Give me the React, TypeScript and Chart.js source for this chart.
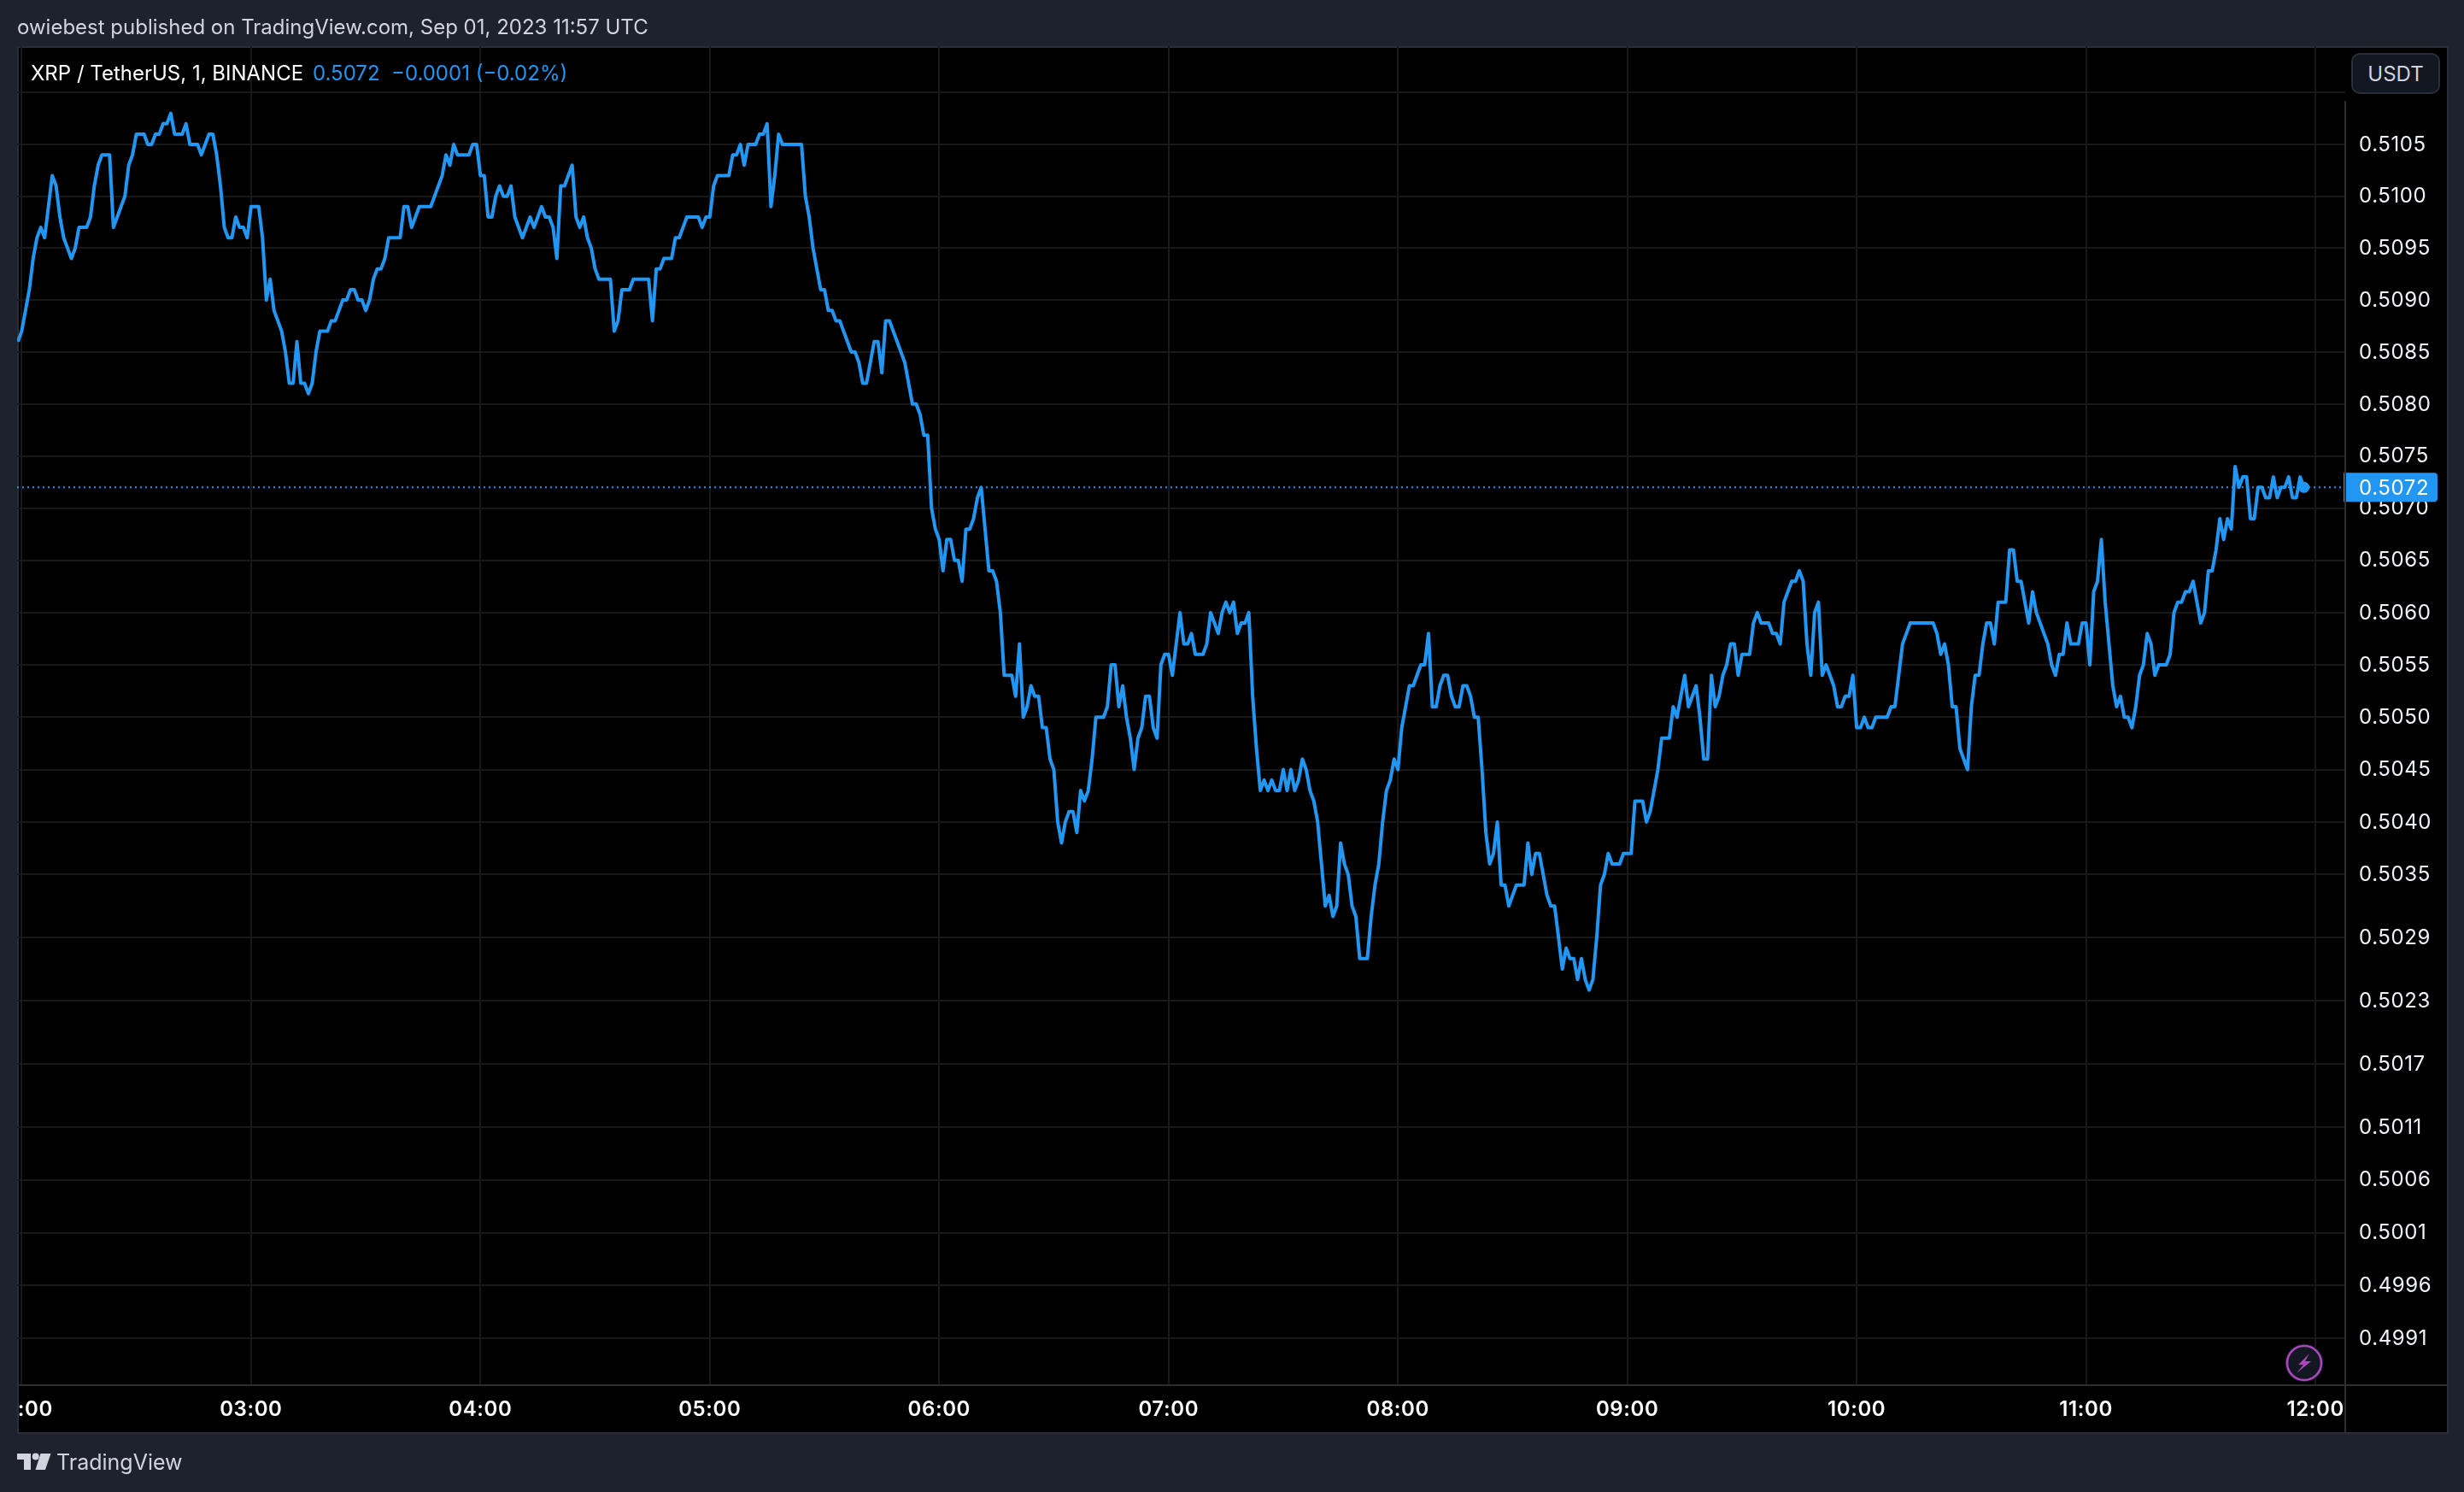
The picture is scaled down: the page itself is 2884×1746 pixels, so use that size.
import React, { useEffect, useRef } from "react";
import { Chart, registerables } from "chart.js";

Chart.register(...registerables);

// One-minute closes, first value at minute 119 of the day (01:59 UTC)
const firstMinute = 119;
const closes0200 = [
  0.5086, 0.5087, 0.5089, 0.5091, 0.5094, 0.5096, 0.5097, 0.5096, 0.5099, 0.5102, 0.5101,
  0.5098, 0.5096, 0.5095, 0.5094, 0.5095, 0.5097, 0.5097, 0.5097, 0.5098, 0.5101,
  0.5103, 0.5104, 0.5104, 0.5104, 0.5097, 0.5098, 0.5099, 0.51, 0.5103, 0.5104,
  0.5106, 0.5106, 0.5106, 0.5105, 0.5105, 0.5106, 0.5106, 0.5107, 0.5107, 0.5108,
  0.5106, 0.5106, 0.5106, 0.5107, 0.5105, 0.5105, 0.5105, 0.5104, 0.5105, 0.5106,
  0.5106, 0.5104, 0.5101, 0.5097, 0.5096, 0.5096, 0.5098, 0.5097, 0.5097, 0.5096,
];
const closes0300 = [
  0.5099, 0.5099, 0.5099, 0.5096, 0.509, 0.5092, 0.5089, 0.5088, 0.5087, 0.5085,
  0.5082, 0.5082, 0.5086, 0.5082, 0.5082, 0.5081, 0.5082, 0.5085, 0.5087, 0.5087,
  0.5087, 0.5088, 0.5088, 0.5089, 0.509, 0.509, 0.5091, 0.5091, 0.509, 0.509,
  0.5089, 0.509, 0.5092, 0.5093, 0.5093, 0.5094, 0.5096, 0.5096, 0.5096, 0.5096,
  0.5099, 0.5099, 0.5097, 0.5098, 0.5099, 0.5099, 0.5099, 0.5099, 0.51, 0.5101,
  0.5102, 0.5104, 0.5103, 0.5105, 0.5104, 0.5104, 0.5104, 0.5104, 0.5105, 0.5105,
];
const closes0400 = [
  0.5102, 0.5102, 0.5098, 0.5098, 0.51, 0.5101, 0.51, 0.51, 0.5101, 0.5098,
  0.5097, 0.5096, 0.5097, 0.5098, 0.5097, 0.5098, 0.5099, 0.5098, 0.5098, 0.5097,
  0.5094, 0.5101, 0.5101, 0.5102, 0.5103, 0.5098, 0.5097, 0.5098, 0.5096, 0.5095,
  0.5093, 0.5092, 0.5092, 0.5092, 0.5092, 0.5087, 0.5088, 0.5091, 0.5091, 0.5091,
  0.5092, 0.5092, 0.5092, 0.5092, 0.5092, 0.5088, 0.5093, 0.5093, 0.5094, 0.5094,
  0.5094, 0.5096, 0.5096, 0.5097, 0.5098, 0.5098, 0.5098, 0.5098, 0.5097, 0.5098,
];
const closes0500 = [
  0.5098, 0.5101, 0.5102, 0.5102, 0.5102, 0.5102, 0.5104, 0.5104, 0.5105, 0.5103,
  0.5105, 0.5105, 0.5105, 0.5106, 0.5106, 0.5107, 0.5099, 0.5102, 0.5106, 0.5105,
  0.5105, 0.5105, 0.5105, 0.5105, 0.5105, 0.51, 0.5098, 0.5095, 0.5093, 0.5091,
  0.5091, 0.5089, 0.5089, 0.5088, 0.5088, 0.5087, 0.5086, 0.5085,
  0.5085, 0.5084, 0.5082, 0.5082, 0.5084, 0.5086, 0.5086, 0.5083, 0.5088, 0.5088,
  0.5087, 0.5086, 0.5085, 0.5084, 0.5082, 0.508, 0.508, 0.5079, 0.5077, 0.5077,
  0.507, 0.5068,
];
const closes0600 = [
  0.5067, 0.5064, 0.5067, 0.5067, 0.5065, 0.5065, 0.5063, 0.5068,
  0.5068, 0.5069, 0.5071, 0.5072, 0.5068, 0.5064, 0.5064, 0.5063, 0.506, 0.5054,
  0.5054, 0.5054, 0.5052, 0.5057, 0.505, 0.5051, 0.5053, 0.5052, 0.5052, 0.5049,
  0.5049, 0.5046, 0.5045, 0.504, 0.5038, 0.504, 0.5041, 0.5041, 0.5039, 0.5043,
  0.5042, 0.5043, 0.5046, 0.505, 0.505, 0.505, 0.5051, 0.5055, 0.5055, 0.5051,
  0.5053, 0.505, 0.5048, 0.5045, 0.5048, 0.5049, 0.5052, 0.5052, 0.5049, 0.5048,
  0.5055, 0.5056,
];
const closes0700 = [
  0.5056, 0.5054, 0.5057, 0.506, 0.5057, 0.5057, 0.5058, 0.5056,
  0.5056, 0.5056, 0.5057, 0.506, 0.5059, 0.5058, 0.506, 0.5061, 0.506, 0.5061,
  0.5058, 0.5059, 0.5059, 0.506, 0.5052, 0.5047, 0.5043, 0.5044, 0.5043, 0.5044,
  0.5043, 0.5043,
  0.5045, 0.5043, 0.5045, 0.5043, 0.5044, 0.5046, 0.5045, 0.5043, 0.5042, 0.504,
  0.5036, 0.5032, 0.5033, 0.5031, 0.5032, 0.5038, 0.5036, 0.5035, 0.5032, 0.5031,
  0.5027, 0.5027, 0.5027, 0.5031, 0.5034, 0.5036, 0.504, 0.5043, 0.5044, 0.5046,
];
const closes0800 = [
  0.5045, 0.5049, 0.5051, 0.5053, 0.5053, 0.5054, 0.5055, 0.5055, 0.5058, 0.5051,
  0.5051, 0.5053, 0.5054, 0.5054, 0.5052, 0.5051, 0.5051, 0.5053, 0.5053, 0.5052,
  0.505, 0.505, 0.5045, 0.5039, 0.5036, 0.5037, 0.504, 0.5034, 0.5034, 0.5032,
  0.5033, 0.5034, 0.5034, 0.5034, 0.5038, 0.5035, 0.5037, 0.5037, 0.5035, 0.5033,
  0.5032, 0.5032, 0.5029, 0.5026, 0.5028, 0.5027, 0.5027, 0.5025, 0.5027, 0.5025,
  0.5024, 0.5025, 0.5029, 0.5034, 0.5035, 0.5037, 0.5036, 0.5036, 0.5036, 0.5037,
];
const closes0900 = [
  0.5037, 0.5037, 0.5042, 0.5042, 0.5042, 0.504, 0.5041, 0.5043, 0.5045, 0.5048,
  0.5048, 0.5048, 0.5051, 0.505, 0.5052, 0.5054, 0.5051, 0.5052, 0.5053, 0.505,
  0.5046, 0.5046, 0.5054, 0.5051, 0.5052, 0.5054, 0.5055, 0.5057, 0.5057, 0.5054,
  0.5056, 0.5056, 0.5056, 0.5059, 0.506, 0.5059, 0.5059, 0.5059, 0.5058, 0.5058,
  0.5057, 0.5061, 0.5062, 0.5063, 0.5063, 0.5064, 0.5063, 0.5057, 0.5054, 0.506,
  0.5061, 0.5054, 0.5055, 0.5054, 0.5053, 0.5051, 0.5051, 0.5052, 0.5052, 0.5054,
];
const closes1000 = [
  0.5049, 0.5049, 0.505, 0.5049, 0.5049, 0.505, 0.505, 0.505, 0.505, 0.5051,
  0.5051, 0.5054, 0.5057, 0.5058, 0.5059, 0.5059, 0.5059, 0.5059, 0.5059, 0.5059,
  0.5059, 0.5058, 0.5056, 0.5057, 0.5055, 0.5051, 0.5051, 0.5047, 0.5046, 0.5045,
  0.5051, 0.5054, 0.5054, 0.5057, 0.5059, 0.5059, 0.5057, 0.5061, 0.5061, 0.5061,
  0.5066, 0.5066, 0.5063, 0.5063, 0.5061, 0.5059, 0.5062, 0.506, 0.5059, 0.5058,
  0.5057, 0.5055, 0.5054, 0.5056, 0.5056, 0.5059, 0.5057, 0.5057, 0.5057, 0.5059,
];
const closes1100 = [
  0.5059, 0.5055, 0.5062, 0.5063, 0.5067, 0.5061, 0.5057, 0.5053, 0.5051, 0.5052,
  0.505, 0.505, 0.5049, 0.5051, 0.5054, 0.5055, 0.5058, 0.5057, 0.5054, 0.5055,
  0.5055, 0.5055, 0.5056, 0.506, 0.5061, 0.5061, 0.5062, 0.5062, 0.5063, 0.5061,
  0.5059, 0.506, 0.5064, 0.5064, 0.5066, 0.5069, 0.5067, 0.5069, 0.5068, 0.5074,
  0.5072, 0.5073, 0.5073, 0.5069, 0.5069, 0.5072, 0.5072, 0.5071, 0.5071, 0.5073,
  0.5071, 0.5072, 0.5072, 0.5073, 0.5071, 0.5071, 0.5073, 0.5072,
];
const closes = [
  ...closes0200, ...closes0300, ...closes0400, ...closes0500, ...closes0600,
  ...closes0700, ...closes0800, ...closes0900, ...closes1000, ...closes1100,
];

const lastPrice = 0.5072;
const priceTicks = [
  0.511, 0.5105, 0.51, 0.5095, 0.509, 0.5085, 0.508, 0.5075, 0.507, 0.5065, 0.506,
  0.5055, 0.505, 0.5045, 0.504, 0.5035, 0.5029, 0.5023, 0.5017, 0.5011, 0.5006,
  0.5001, 0.4996, 0.4991,
];
const timeTickMinutes = [120, 180, 240, 300, 360, 420, 480, 540, 600, 660, 720];
const timeTickLabels = ["02:00", "03:00", "04:00", "05:00", "06:00", "07:00", "08:00", "09:00", "10:00", "11:00", "12:00"];

const axisMin = 118.8;
const axisMax = 727.8;
const priceMin = 0.49866;
const priceMax = 0.51145;

const BG = "#1e222d";
const BORDER = "#2a2e39";
const AXIS = "#2e2e2e";
const GRID = "#181818";
const BLUE = "#2196f3";
const FONT = "Inter, 'Noto Sans', sans-serif";

const abs = (left: number, top: number, width: number, height: number, extra: React.CSSProperties = {}): React.CSSProperties => ({
  position: "absolute",
  left,
  top,
  width,
  height,
  boxSizing: "border-box",
  ...extra,
});

const text = (left: number, centerY: number, size: number, color: string, extra: React.CSSProperties = {}): React.CSSProperties => ({
  position: "absolute",
  left,
  top: centerY - 20,
  height: 40,
  lineHeight: "40px",
  fontFamily: FONT,
  fontSize: size,
  color,
  whiteSpace: "pre",
  ...extra,
});

const lastPriceLabel = {
  id: "lastPriceLabel",
  beforeDraw(chart: any) {
    chart.ctx.letterSpacing = "0.6px";
  },
  afterDraw(chart: any) {
    const { ctx, scales } = chart;
    const y = scales.y.getPixelForValue(lastPrice);
    ctx.save();
    ctx.fillStyle = BLUE;
    ctx.beginPath();
    ctx.roundRect(2743, y - 17, 110, 34, [0, 4, 4, 0]);
    ctx.fill();
    ctx.fillStyle = "#ffffff";
    ctx.font = `24px ${FONT}`;
    ctx.textBaseline = "middle";
    ctx.textAlign = "left";
    ctx.fillText(lastPrice.toFixed(4), 2761, y + 1);
    ctx.restore();
  },
};

export default function App() {
  const ref = useRef<HTMLCanvasElement | null>(null);

  useEffect(() => {
    document.body.style.margin = "0";
    document.body.style.background = BG;
    const points = closes.map((y, i) => ({ x: firstMinute + i, y }));
    const chart = new Chart(ref.current as HTMLCanvasElement, {
      type: "line",
      data: {
        datasets: [
          {
            label: "Last price",
            data: [
              { x: axisMin, y: lastPrice },
              { x: axisMax - 1, y: lastPrice },
            ],
            borderColor: BLUE,
            borderWidth: 2,
            borderDash: [2, 4],
            pointRadius: 0,
            order: 2,
          },
          {
            label: "XRP / TetherUS",
            data: points,
            borderColor: BLUE,
            backgroundColor: BLUE,
            borderWidth: 4,
            tension: 0,
            borderJoinStyle: "round",
            pointRadius: (c: any) => (c.dataIndex === points.length - 1 ? 4.5 : 0),
            order: 1,
          },
        ],
      },
      options: {
        responsive: false,
        devicePixelRatio: 1,
        animation: false,
        parsing: false,
        layout: { padding: { left: 20, top: 54, right: 20, bottom: 70 } },
        plugins: { legend: { display: false }, tooltip: { enabled: false }, title: { display: false } },
        scales: {
          x: {
            type: "linear",
            min: axisMin,
            max: axisMax,
            afterBuildTicks: (s: any) => {
              s.ticks = timeTickMinutes.map((value) => ({ value }));
            },
            afterFit: (s: any) => {
              s.height = 55;
              s.paddingLeft = 0;
              s.paddingRight = 0;
            },
            grid: { color: GRID, lineWidth: 2, drawTicks: false },
            border: { display: false },
            ticks: {
              autoSkip: false,
              maxRotation: 0,
              padding: 14,
              color: "#ffffff",
              font: { family: FONT, size: 24, weight: "600" },
              callback: (v: any) => timeTickLabels[timeTickMinutes.indexOf(Number(v))] ?? "",
            },
          },
          y: {
            type: "logarithmic",
            position: "right",
            min: priceMin,
            max: priceMax,
            bounds: "data",
            afterBuildTicks: (s: any) => {
              s.ticks = priceTicks.map((value) => ({ value }));
            },
            afterFit: (s: any) => {
              s.width = 119;
              s.paddingTop = 0;
              s.paddingBottom = 0;
            },
            grid: { color: GRID, lineWidth: 2, drawTicks: false },
            border: { display: false },
            ticks: {
              autoSkip: false,
              padding: 16,
              labelOffset: 0.5,
              color: "#f0f3fa",
              font: { family: FONT, size: 24 },
              callback: (v: any) => (Number(v) >= 0.511 ? "" : Number(v).toFixed(4)),
            },
          },
        },
      },
      plugins: [lastPriceLabel],
    } as any);
    return () => chart.destroy();
  }, []);

  return (
    <div style={abs(0, 0, 2884, 1746, { background: BG, overflow: "hidden", position: "fixed" })}>
      <div style={abs(20, 54, 2846, 1624, { background: "#000", border: `2px solid ${BORDER}` })} />
      <canvas ref={ref} width={2884} height={1746} style={{ position: "absolute", left: 0, top: 0, display: "block" }} />

      {/* left strip hides the part of the first time label that falls off the pane */}
      <div style={abs(0, 1622, 22, 56, { background: BG, borderRight: `2px solid ${BORDER}` })} />
      {/* pane separators */}
      <div style={abs(22, 1620, 2842, 2, { background: AXIS })} />
      <div style={abs(2744, 118, 2, 1558, { background: AXIS })} />

      <div style={text(20, 32, 24, "#d1d4dc")}>owiebest published on TradingView.com, Sep 01, 2023 11:57 UTC</div>
      <div style={text(36, 86, 24, "#ffffff")}>XRP / TetherUS, 1, BINANCE</div>
      <div style={text(366, 86, 24, BLUE)}>0.5072</div>
      <div style={text(458, 86, 24, BLUE)}>−0.0001 (−0.02%)</div>

      <div
        style={abs(2752, 62, 104, 48, {
          background: "#131722",
          border: `2px solid ${BORDER}`,
          borderRadius: 10,
          color: "#d1d4dc",
          fontFamily: FONT,
          fontSize: 24,
          lineHeight: "46px",
          textAlign: "center",
        })}
      >
        USDT
      </div>

      <svg style={abs(2672, 1570, 50, 50)} viewBox="0 0 50 50">
        <circle cx="25" cy="25" r="22.5" fill="#131722" />
        <circle cx="25" cy="25" r="20" fill="#131722" stroke="#ab47bc" strokeWidth="2.6" />
        <path d="M31 14 L18 27 L24 27 L16 37 L33 23 L26 23 Z" fill="#ab47bc" />
      </svg>

      <svg style={abs(20, 1700, 40, 22)} viewBox="0 0 40 22">
        <path d="M0 1 H16 V20 H8 V8 H0 Z" fill="#d1d4dc" />
        <circle cx="21.7" cy="4.5" r="4" fill="#d1d4dc" />
        <path d="M27.5 1 H39.5 L33 20 H21.5 Z" fill="#d1d4dc" />
      </svg>
      <div style={text(66, 1711, 25, "#d1d4dc")}>TradingView</div>
    </div>
  );
}
